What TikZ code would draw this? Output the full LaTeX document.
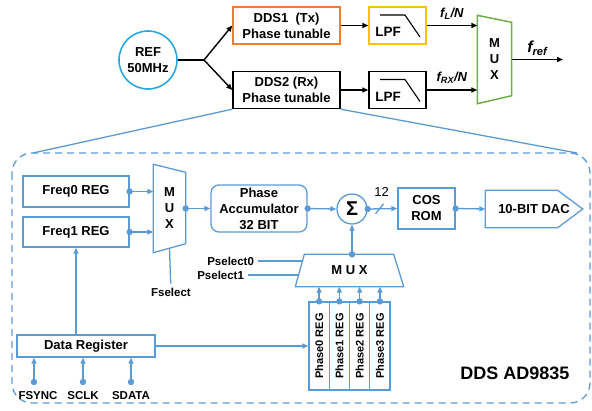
\documentclass[tikz,border=0pt]{standalone}
\usepackage{fontspec}
\setmainfont{Liberation Sans}
\usepackage{xcolor}
\usetikzlibrary{arrows.meta}
\definecolor{lblue}{RGB}{91,155,213}
\definecolor{refc}{RGB}{38,168,224}
\definecolor{ddsorange}{RGB}{237,125,49}
\definecolor{lpfyellow}{RGB}{255,192,0}
\definecolor{muxgreen}{RGB}{112,173,71}

\begin{document}
\begin{tikzpicture}[x=1pt,y=-1pt,line width=1.4pt,
  font=\fontsize{13}{16}\selectfont\bfseries,
  arr/.style={-{Triangle[length=6pt,width=5pt]}},
  bline/.style={draw=lblue,line width=1.3pt},
  barr/.style={bline,-{Triangle[length=6pt,width=5pt]}},
  bbox/.style={draw=lblue,line width=1.3pt,inner sep=0pt},
  kbox/.style={draw,inner sep=0pt,minimum width=107pt,minimum height=37pt,align=center},
  lpfbox/.style={draw,minimum width=57pt,minimum height=37pt},
  small/.style={font=\fontsize{11.5}{13}\selectfont\bfseries}]
  \useasboundingbox (0,0) rectangle (592,410);
  \node[circle,draw=refc,line width=1.6pt,minimum size=58pt,inner sep=0pt,align=center] (ref) at (148,60) {REF\\50MHz};
  \node[kbox,draw=ddsorange] (dds1) at (286.5,25.5) {DDS1~~(Tx)\\Phase tunable};
  \node[kbox] (dds2) at (286.5,90) {DDS2 (Rx)\\Phase tunable};
  \coordinate (split) at (204,60);
  \draw (ref) -- (split); \draw[arr] (split) -- (dds1.west); \draw[arr] (split) -- (dds2.west);
  \node[lpfbox,draw=lpfyellow] (lpf1) at (397.5,25.5) {};
  \node[lpfbox] (lpf2) at (397.5,90) {};
  \foreach \f in {lpf1,lpf2}{
    \node[font=\fontsize{13.5}{16}\selectfont\bfseries] (t\f) at ([shift={(-9.5,6.5)}]\f.center) {LPF};
    \draw[line width=1.1pt] ([shift={(-17.5,-10.5)}]\f.center) -- ++(25,0) -- ++(15,22);}
  \draw[arr] (dds1) -- (lpf1); \draw[arr] (dds2) -- (lpf2);
  \node[minimum width=33pt,minimum height=87pt,inner sep=0pt,align=center] (mux0) at (494.5,59.5) {M\\U\\X};
  \draw[muxgreen,line width=1.5pt] (mux0.north west) -- ([yshift=-7pt]mux0.north east) -- ([yshift=8pt]mux0.south east) -- (mux0.south west) -- cycle;
  \draw[arr] (lpf1) -- (lpf1 -| mux0.west) node[midway,above=2pt] {\textit{f\textsubscript{L}/N}};
  \draw[arr] (lpf2) -- (lpf2 -| mux0.west) node[midway,above=2pt] {\textit{f\textsubscript{RX}/N}};
  \coordinate (fout) at (563,59.5);
  \draw[arr] (mux0.east) -- (fout) node[midway,above] {\fontsize{16}{18}\selectfont\textit{f\textsubscript{ref}}};
  % zoom into DDS2
  \draw[lblue,line width=1.3pt,dash pattern=on 7pt off 5pt,rounded corners=20pt] (12,153) rectangle (590,403);
  \coordinate (zl) at (33,153); \coordinate (zr) at (577,153);
  \draw[bline] (dds2.south west) -- (zl); \draw[bline] (dds2.south east) -- (zr);
  \node[bbox,minimum width=106pt,minimum height=31pt] (freq0) at (76,191.5) {Freq0 REG};
  \node[bbox,minimum width=106pt,minimum height=30pt] (freq1) at (76,232) {Freq1 REG};
  \node[minimum width=31pt,minimum height=87pt,inner sep=0pt,align=center] (mux1) at (169.5,208.5) {M\\U\\X};
  \draw[bline] (mux1.north west) -- ([yshift=-8pt]mux1.north east) -- ([yshift=9pt]mux1.south east) -- (mux1.south west) -- cycle;
  \node[bbox,rounded corners=8pt,minimum width=96pt,minimum height=47pt,align=center] (phacc) at (259,208.5) {Phase\\Accumulator\\32 BIT};
  \node[bbox,circle,minimum size=30pt] (sum) at (352,209) {\fontsize{20}{20}\selectfont Σ};
  \node[bbox,minimum width=57pt,minimum height=41pt,align=center] (cosrom) at (426.5,208.5) {COS\\ROM};
  \node[inner sep=0pt,minimum width=96pt,minimum height=36pt] (dac) at (534,209) {10-BIT DAC};
  \draw[bline] (dac.north west) -- ([xshift=-25pt]dac.north east) -- (dac.east) -- ([xshift=-25pt]dac.south east) -- (dac.south west) -- cycle;
  \node[minimum width=107pt,minimum height=31pt,inner sep=0pt] (mux2) at (349.5,270.5) {M U X};
  \draw[bline] ([xshift=9pt]mux2.north west) -- ([xshift=-10pt]mux2.north east) -- (mux2.south east) -- (mux2.south west) -- cycle;
  \foreach \a in {freq0,freq1}{\fill[lblue] (\a.east) circle (3.2pt); \draw[barr] (\a.east) -- (\a.east -| mux1.west);}
  \foreach \a/\b in {mux1/phacc,phacc/sum,cosrom/dac}{\fill[lblue] (\a.east) circle (3.2pt); \draw[barr] (\a.east) -- (\b.west);}
  \fill[lblue] (sum.east) circle (3.2pt); \draw[barr] (sum.east) -- (cosrom.west) coordinate[pos=0.4] (bus);
  \draw[bline] ([shift={(-4,5)}]bus) -- ([shift={(4,-5)}]bus);
  \node[font=\fontsize{13}{13}\selectfont] (bw) at ([shift={(2,-17)}]bus) {12};
  \fill[lblue] (sum |- mux2.north) circle (3.2pt); \draw[barr] (sum |- mux2.north) -- (sum.south);
  \node[small,anchor=east] (psel0) at (258,261) {Pselect0};
  \node[small,anchor=east] (psel1) at (248,275) {Pselect1};
  \coordinate (ps0) at (303.3,261); \coordinate (ps1) at (299.2,275);
  \draw[bline] (psel0) -- (ps0); \draw[bline] (psel1) -- (ps1);
  \node[small] (fsel) at (171,292) {Fselect};
  \draw[bline] ([yshift=4.5pt]mux1.south) -- (fsel);
  \foreach \i in {0,...,3}{
    \node[bbox,rotate=90,minimum width=88pt,minimum height=20.3pt,font=\fontsize{11}{13}\selectfont\bfseries] (preg\i) at (319.1+20.25*\i,346) {Phase\i\ REG};
    \fill[lblue] (preg\i.east) circle (3.2pt);
    \draw[barr] (preg\i.east) -- (preg\i.east |- mux2.south);}
  \node[bbox,minimum width=138pt,minimum height=22pt] (datareg) at (86,346) {Data Register};
  \draw[barr] (datareg.north -| freq1.south) -- (freq1.south);
  \draw[barr] (datareg.east) -- (preg0.north);
  \foreach \n/\x/\lx in {FSYNC/34/38,SCLK/83/83,SDATA/131/131}{
    \coordinate (\n) at (\x,382);
    \fill[lblue] (\n) circle (3.2pt);
    \draw[barr] (\n) -- (\n |- datareg.south);
    \node[small] (l\n) at (\lx,396) {\n};}
  \node[font=\fontsize{18}{20}\selectfont\bfseries] (title) at (515,373) {DDS AD9835};
\end{tikzpicture}
\end{document}
